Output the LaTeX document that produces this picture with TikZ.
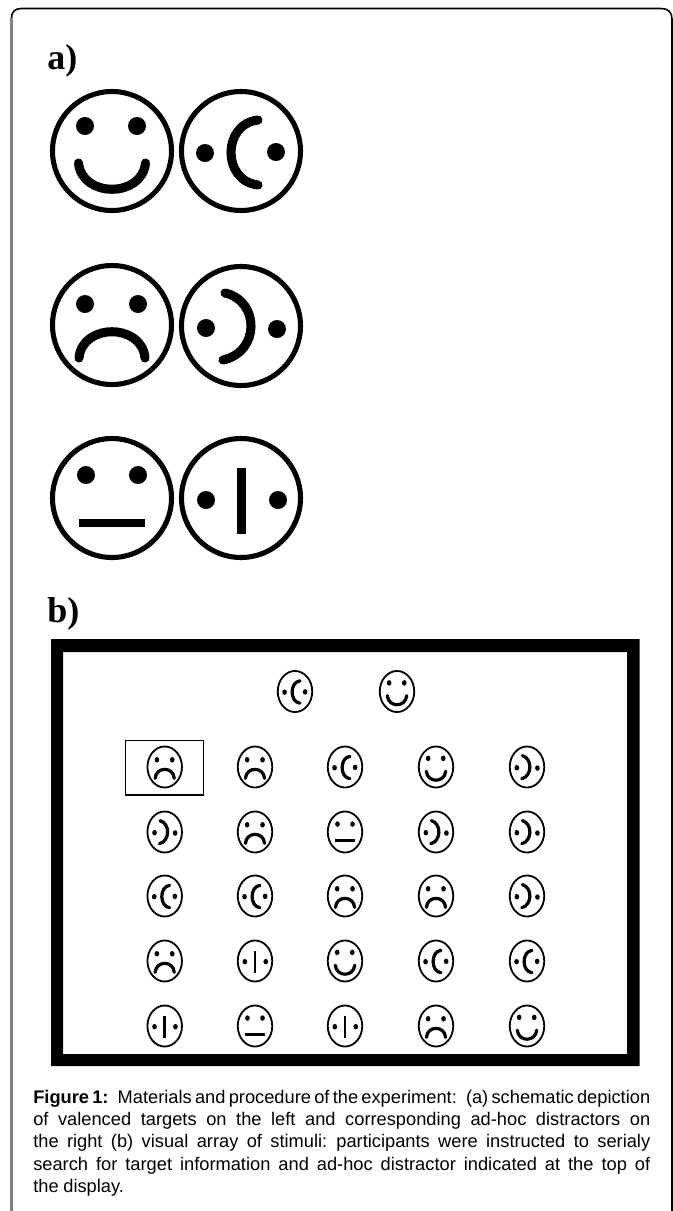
\documentclass[tikz,border=0pt]{standalone}
\usepackage{fontspec}
\setmainfont{Liberation Sans}
\newfontfamily\labelfont{Liberation Serif}
\tikzset{
  x=0.75pt,y=-0.75pt,
  headlabel/.style={anchor=base west,inner sep=0pt,font=\labelfont\bfseries\fontsize{27}{30}\selectfont},
  caption/.style={anchor=north west,inner sep=0pt,text width=462.75pt,align=left,font=\fontsize{13.7}{16.65}\selectfont},
  hl/.style={draw=black,line width=1.4pt}
}
\newcommand{\capline}[1]{\hbox to 462.75pt{\spaceskip=.2em plus 1fil minus .1em\relax #1}}
% \facebase{cx}{cy}{xs}{ys}{outline w}{mouth w}{eye r}{kind}
\newcommand{\eyer}{9}
\newcommand{\facebase}[8]{%
  \begin{scope}[shift={(#1,#2)},xscale=#3,yscale=#4]
    \draw[line width=#5] (0,0) circle[radius=59.5];
    \def\eyer{#7}%
    \csname mouth#8\endcsname{#6}
  \end{scope}}
\newcommand{\eyes}[4]{\fill (#1,#2) circle[radius=\eyer] (#3,#4) circle[radius=\eyer];}
\expandafter\newcommand\csname mouthS\endcsname[1]{\eyes{-27}{-25}{25}{-25}
  \draw[line width=#1,line cap=round] (-33.5,12) .. controls (-30,47) and (30,47) .. (33.5,12);}
\expandafter\newcommand\csname mouthF\endcsname[1]{\eyes{-27}{-21}{26}{-21}
  \draw[line width=#1,line cap=round] (-33,33) .. controls (-30,-2) and (30,-2) .. (33,33);}
\expandafter\newcommand\csname mouthN\endcsname[1]{\eyes{-26}{-23}{26}{-23}
  \fill (-33,21) rectangle (33,29);}
\expandafter\newcommand\csname mouthL\endcsname[1]{\eyes{-36}{2}{35}{1}
  \draw[line width=#1,line cap=round] (17,-31) .. controls (-19,-27) and (-19,30) .. (17,34);}
\expandafter\newcommand\csname mouthR\endcsname[1]{\eyes{-35}{2}{36}{3}
  \draw[line width=#1,line cap=round] (-16,-33) .. controls (19,-25) and (19,26) .. (-18,34);}
\expandafter\newcommand\csname mouthV\endcsname[1]{\eyes{-35}{2}{37}{2}
  \fill (-4.5,-30) rectangle (4.5,36);}
\newcommand{\bigf}[3]{\facebase{#1}{#2}{1}{1}{3.8pt}{6.8pt}{9}{#3}}
\newcommand{\smf}[3]{\facebase{#1}{#2}{0.29}{0.345}{1.35pt}{2.4pt}{8}{#3}}
\begin{document}
\begin{tikzpicture}
\useasboundingbox (0,0) rectangle (673,1211);
\fill[white] (0,0) rectangle (673,1211);
% panel edge
\draw[gray,line width=1.7pt] (11.5,18) -- (11.5,1211);
\draw[black,line width=1.2pt] (11.5,18) .. controls (11.5,12) and (15,8.5) .. (21,8.5) -- (661,8.5) .. controls (668,8.5) and (672,12) .. (672,19) -- (672,1211);
% labels
\node[headlabel] (la) at (47,69) {a)};
\node[headlabel] (lb) at (47,622) {b)};
% part a
\bigf{112}{151}{S}\bigf{241}{151}{L}
\bigf{112}{325}{F}\bigf{241}{326}{R}
\bigf{112}{498}{N}\bigf{241}{498}{V}
% part b frame
\fill[even odd rule] (51,639) rectangle (639.5,1066) (63,652) rectangle (627,1054);
\draw[hl] (125.5,740.5) rectangle (203.5,795);
% cue
\smf{295}{691.5}{L}\smf{397}{691.5}{S}
% grid
\smf{164.7}{767}{F}\smf{255}{767}{F}\smf{345}{767}{L}\smf{436}{767}{S}\smf{527}{767}{R}
\smf{164.7}{832}{R}\smf{255}{832}{F}\smf{345}{832}{N}\smf{436}{832}{R}\smf{527}{832}{R}
\smf{164.7}{896}{L}\smf{255}{896}{L}\smf{345}{896}{F}\smf{436}{896}{F}\smf{527}{896}{R}
\smf{164.7}{961}{F}\smf{255}{961}{V}\smf{345}{961}{S}\smf{436}{961}{L}\smf{527}{961}{L}
\smf{164.7}{1026}{V}\smf{255}{1026}{N}\smf{345}{1026}{V}\smf{436}{1026}{F}\smf{527}{1026}{S}
% caption
\node[caption] (cap) at (33,1090) {%
\capline{\textbf{Figure 1:} Materials and procedure of the experiment: (a) schematic depiction}
\capline{of valenced targets on the left and corresponding ad-hoc distractors on}
\capline{the right (b) visual array of stimuli: participants were instructed to serialy}
\capline{search for target information and ad-hoc distractor indicated at the top of}
\hbox{\spaceskip=.26em\relax the display.}};
\end{tikzpicture}
\end{document}
